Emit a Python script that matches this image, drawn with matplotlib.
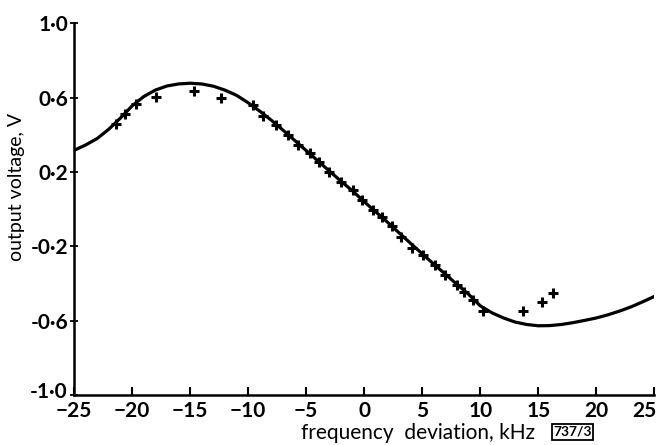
import matplotlib
matplotlib.use("Agg")
import matplotlib.pyplot as plt
from matplotlib.transforms import ScaledTranslation

plt.rcParams['font.family'] = ['Lato', 'DejaVu Sans']
plt.rcParams['font.weight'] = 'bold'

curve_f = list(range(-25, 26))
curve_v = [0.316, 0.345, 0.380, 0.430, 0.490, 0.555, 0.605, 0.640, 0.662, 0.673,
           0.677, 0.673, 0.661, 0.640, 0.612, 0.572, 0.527, 0.478, 0.425, 0.370,
           0.315, 0.260, 0.205, 0.150, 0.098, 0.040, -0.015, -0.070, -0.127, -0.184,
           -0.240, -0.296, -0.350, -0.405, -0.458, -0.520, -0.557, -0.585, -0.607, -0.620,
           -0.627, -0.626, -0.620, -0.610, -0.598, -0.585, -0.568, -0.548, -0.525, -0.498,
           -0.469]

# measured points
meas_f = [-21.4, -20.6, -19.7, -17.9, -14.7, -12.3, -9.6, -8.7, -7.6, -6.6,
          -5.7, -4.7, -3.9, -3.0, -2.0, -1.0, -0.2, 0.8, 1.5, 2.4,
          3.2, 4.1, 5.1, 6.1, 7.0, 8.0, 8.6, 9.4, 10.2, 13.7,
          15.3, 16.3]
meas_v = [0.456, 0.510, 0.564, 0.602, 0.634, 0.596, 0.559, 0.499, 0.451, 0.397,
          0.343, 0.300, 0.254, 0.200, 0.146, 0.105, 0.047, -0.003, -0.040, -0.093,
          -0.150, -0.210, -0.249, -0.300, -0.356, -0.406, -0.446, -0.490, -0.545, -0.545,
          -0.500, -0.452]

yticks = [1.0, 0.6, 0.2, -0.2, -0.6, -1.0]
ytick_labels = ['1·0', '0·6', '0·2', '-0·2', '-0·6', '-1·0']
xticks = [-25, -20, -15, -10, -5, 0, 5, 10, 15, 20, 25]

fig = plt.figure(figsize=(6.58, 4.45), dpi=100)
ax = fig.add_axes([0.1125, 0.112, 0.882, 0.836])

ax.plot(curve_f, curve_v, color='black', lw=2.3, solid_capstyle='round')
ax.plot(meas_f, meas_v, ls='none', marker='+', ms=6.5, mew=2.2, color='black')

ax.set_xlim(-25, 25)
ax.set_ylim(-1.0, 1.0)
ax.set_yticks(yticks)
ax.set_yticklabels(ytick_labels)
ax.set_xticks(xticks)

for s in ['top', 'right']:
    ax.spines[s].set_visible(False)
for s in ['left', 'bottom']:
    ax.spines[s].set_linewidth(1.8)

ax.tick_params(axis='x', direction='in', length=6, width=1.5, labelsize=15, pad=4)
ax.tick_params(axis='y', direction='inout', length=6, width=1.3, labelsize=15, pad=1)

# last x label sits at the very edge; nudge it inward
last = ax.get_xticklabels()[-1]
last.set_transform(last.get_transform() + ScaledTranslation(-7 / 72, 0, fig.dpi_scale_trans))
# bottom y label sits a bit above the axis line, as in the original
low = ax.get_yticklabels()[-1]
low.set_transform(low.get_transform() + ScaledTranslation(-1 / 72, 4 / 72, fig.dpi_scale_trans))

ax.set_xlabel('frequency  deviation, kHz', fontsize=15)
ax.xaxis.set_label_coords(0.592, -0.075)
ax.set_ylabel('output voltage, V', fontsize=14)
ax.yaxis.set_label_coords(-0.085, 0.56)

ax.text(0.859, -0.099, '737/3', transform=ax.transAxes, fontsize=10,
        ha='center', va='center',
        bbox=dict(boxstyle='square,pad=0.12', fc='white', ec='black', lw=1.3))

fig.savefig('out.png', dpi=100)
